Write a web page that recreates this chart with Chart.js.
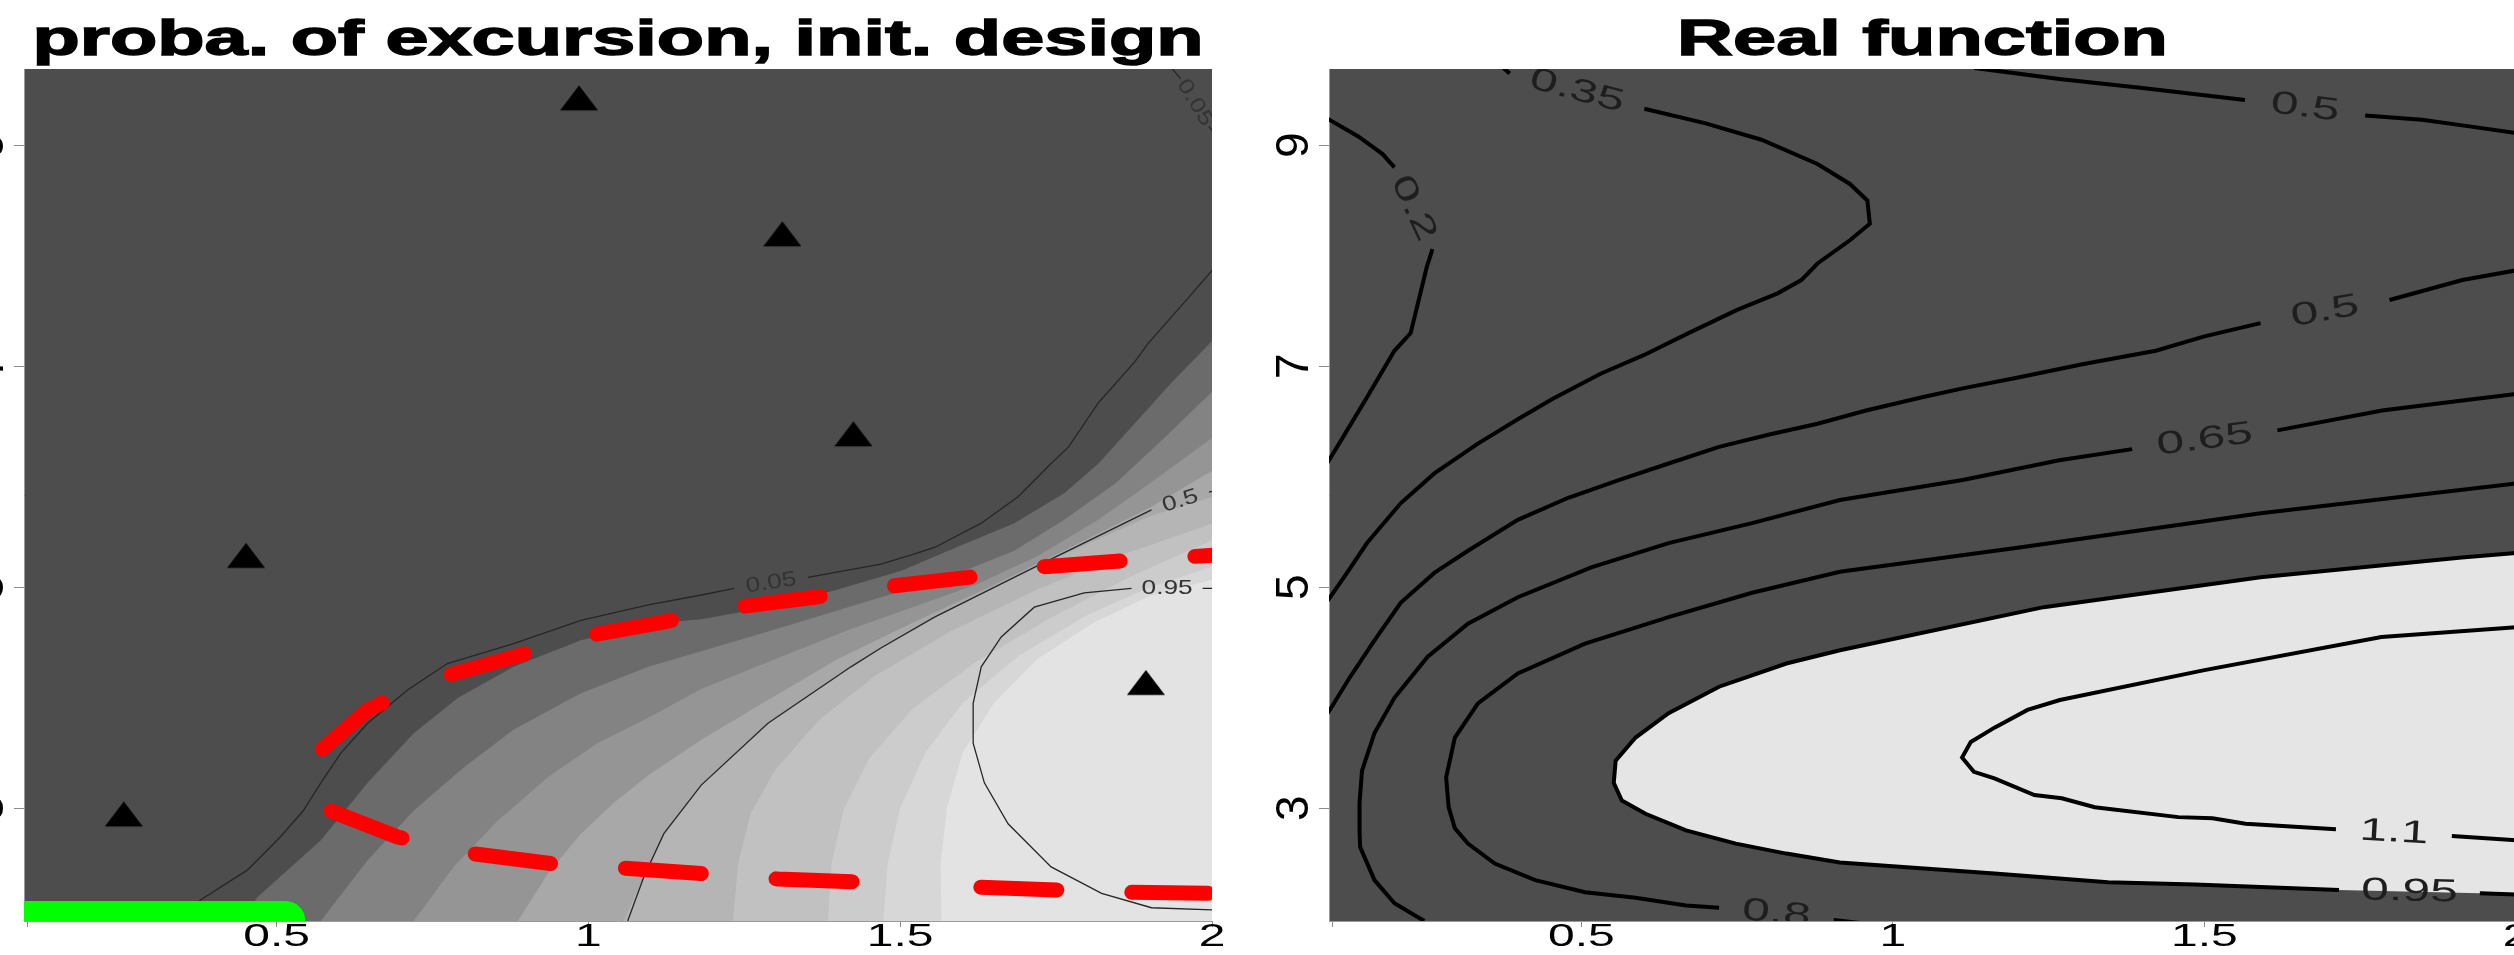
<!DOCTYPE html>
<html>
<head>
<meta charset="utf-8">
<script src="https://cdn.jsdelivr.net/npm/chart.js@4.4.1/dist/chart.umd.min.js"></script>
<style>
  html, body { margin: 0; padding: 0; background: #fff; }
  body { width: 2514px; height: 955px; overflow: hidden; position: relative; }
  canvas { position: absolute; top: 0; }
  #left { left: -60px; }
  #right { left: 1260px; }
</style>
</head>
<body>
<canvas id="left" width="1300" height="955"></canvas>
<canvas id="right" width="1300" height="955"></canvas>
<script>
// axes
const xLimits = [0.095, 2.0];
const yLimits = [1.98, 9.69];
const xTicks = [0.1, 0.5, 1, 1.5, 2];
const xTickLabels = ['', '0.5', '1', '1.5', '2'];
const yTicks = [3, 5, 7, 9];
const yTickLabels = ['3', '5', '7', '9'];

// initial design (triangles)
const designX = [0.985, 1.311, 1.425, 0.451, 0.255, 1.894];
const designY = [9.39, 8.16, 6.35, 5.25, 2.91, 4.10];

// left panel: probability bands, edge of each lighter band (bottom edge -> right edge)
const bandColors = ['#4d4d4d', '#6b6b6b', '#838383', '#959595', '#a8a8a8', '#b5b5b5', '#c1c1c1', '#cccccc', '#d7d7d7', '#e3e3e3'];
const bandEdges = [
  [[0.44,1.98],[0.470,2.20],[0.571,2.71],[0.646,3.23],[0.720,3.68],[0.791,4.00],[0.880,4.28],[0.988,4.52],[1.096,4.67],[1.181,4.71],[1.288,4.82],[1.394,4.97],[1.502,5.15],[1.577,5.33],[1.683,5.58],[1.763,5.85],[1.818,6.12],[1.871,6.45],[1.935,6.85],[2.002,7.24]],
  [[0.571,1.98],[0.646,2.53],[0.720,2.98],[0.800,3.37],[0.880,3.71],[0.988,4.04],[1.096,4.28],[1.181,4.42],[1.288,4.60],[1.394,4.78],[1.469,4.91],[1.577,5.09],[1.683,5.33],[1.763,5.61],[1.845,5.94],[1.925,6.36],[2.002,6.78]],
  [[0.720,1.98],[0.784,2.47],[0.855,2.89],[0.935,3.28],[1.015,3.59],[1.096,3.82],[1.181,4.08],[1.30,4.35],[1.42,4.62],[1.52,4.82],[1.62,5.02],[1.72,5.28],[1.82,5.62],[1.91,5.98],[2.002,6.36]],
  [[0.887,1.98],[0.935,2.41],[0.988,2.77],[1.041,3.05],[1.096,3.30],[1.181,3.62],[1.288,3.98],[1.40,4.35],[1.52,4.68],[1.65,5.02],[1.78,5.38],[1.90,5.72],[2.002,6.06]],
  [[1.057,1.98],[1.089,2.38],[1.121,2.77],[1.181,3.21],[1.288,3.77],[1.421,4.28],[1.555,4.73],[1.715,5.18],[1.903,5.65],[2.002,5.82]],
  [[1.232,1.98],[1.24,2.5],[1.26,2.95],[1.30,3.35],[1.37,3.80],[1.46,4.20],[1.58,4.60],[1.72,4.98],[1.86,5.30],[2.002,5.58]],
  [[1.384,1.98],[1.39,2.5],[1.41,3.0],[1.45,3.45],[1.52,3.90],[1.62,4.32],[1.74,4.72],[1.87,5.10],[2.002,5.43]],
  [[1.473,1.98],[1.48,2.5],[1.50,3.0],[1.54,3.50],[1.60,3.95],[1.69,4.38],[1.80,4.75],[1.90,5.00],[2.002,5.19]],
  [[1.566,1.98],[1.565,2.5],[1.575,3.0],[1.60,3.50],[1.65,3.95],[1.72,4.35],[1.81,4.68],[1.90,4.92],[2.002,5.07]]
];

// left panel: contours of the excursion probability (null = label gap)
const pexc005 = [[0.345,1.98],[0.378,2.17],[0.453,2.44],[0.506,2.74],[0.543,2.98],[0.571,3.23],[0.603,3.50],[0.646,3.77],[0.710,4.07],[0.774,4.31],[0.880,4.49],[0.988,4.70],[1.096,4.84],[1.181,4.93],[1.234,4.99], null, [1.352,5.09],[1.469,5.21],[1.522,5.30],[1.555,5.36],[1.630,5.58],[1.689,5.82],[1.742,6.12],[1.770,6.27],[1.818,6.67],[1.876,7.04],[1.898,7.21],[1.956,7.58],[2.002,7.88]];
const pexc005Corner = [[1.935,9.70],[1.950,9.60], null, [1.995,9.17],[2.002,9.12]];
const pexc05 = [[1.063,1.98],[1.089,2.38],[1.121,2.77],[1.181,3.21],[1.288,3.77],[1.421,4.28],[1.469,4.45],[1.555,4.73],[1.715,5.18],[1.903,5.70], null, [1.995,5.86],[2.002,5.87]];
const pexc095 = [[2.002,4.99],[1.985,4.99], null, [1.871,4.99],[1.795,4.95],[1.715,4.82],[1.662,4.55],[1.630,4.28],[1.617,3.95],[1.617,3.59],[1.635,3.23],[1.673,2.86],[1.742,2.47],[1.823,2.23],[1.903,2.10],[2.002,2.08]];
// true excursion set boundary (red), drawn from its left tip: upper branch, lower branch, after the small label
const trueBoundary = [[0.552,3.23],[0.566,3.50],[0.646,3.89],[0.747,4.16],[0.880,4.37],[0.988,4.55],[1.116,4.68],[1.224,4.81],[1.362,4.91],[1.470,5.00],[1.609,5.09],[1.715,5.18],[1.860,5.24],[2.002,5.29], null,
  [0.552,3.23],[0.576,3.00],[0.694,2.74],[0.800,2.60],[0.940,2.50],[1.052,2.46],[1.181,2.41],[1.304,2.36],[1.449,2.33], null,
  [1.570,2.30],[1.609,2.29],[1.758,2.26],[1.866,2.24],[2.002,2.23]];
const greenSegment = [[0.06,1.98],[0.514,1.98]];

// right panel: contours of the real function
const f02 = [[0.093,9.24],[0.142,9.08],[0.181,8.92],[0.200,8.80], null, [0.261,8.06],[0.252,7.90],[0.239,7.60],[0.226,7.30],[0.200,7.14],[0.156,6.72],[0.124,6.42],[0.093,6.13]];
const f035 = [[0.375,9.70],[0.385,9.65], null, [0.601,9.33],[0.698,9.20],[0.789,9.05],[0.879,8.83],[0.931,8.65],[0.959,8.50],[0.963,8.29],[0.931,8.14],[0.879,7.93],[0.853,7.78],[0.815,7.66],[0.750,7.51],[0.672,7.30],[0.600,7.10],[0.530,6.93],[0.452,6.70],[0.398,6.52],[0.334,6.30],[0.264,6.03],[0.210,5.76],[0.156,5.40],[0.119,5.09],[0.093,4.88]];
const f05a = [[1.131,9.70],[1.267,9.60],[1.397,9.52],[1.565,9.41], null, [1.758,9.27],[1.849,9.23],[1.914,9.18],[2.002,9.11]];
const f05b = [[2.002,7.87],[1.914,7.78],[1.797,7.60], null, [1.590,7.39],[1.500,7.27],[1.422,7.14],[1.306,7.02],[1.203,6.90],[1.112,6.80],[1.047,6.72],[0.957,6.60],[0.879,6.48],[0.800,6.38],[0.721,6.27],[0.640,6.12],[0.560,5.97],[0.479,5.81],[0.398,5.61],[0.318,5.33],[0.264,5.13],[0.210,4.86],[0.168,4.52],[0.129,4.19],[0.093,3.86]];
const f065 = [[2.002,6.75],[1.914,6.69],[1.785,6.60],[1.617,6.42], null, [1.384,6.25],[1.267,6.15],[1.112,5.97],[0.915,5.79],[0.774,5.58],[0.640,5.40],[0.516,5.18],[0.398,4.91],[0.318,4.67],[0.253,4.37],[0.200,4.00],[0.168,3.68],[0.148,3.34],[0.144,3.05],[0.144,2.80],[0.145,2.65],[0.168,2.35],[0.200,2.14],[0.248,1.98]];
const f08 = [[2.002,5.94],[1.590,5.67],[1.203,5.36],[0.915,5.14],[0.774,4.95],[0.640,4.73],[0.506,4.49],[0.398,4.22],[0.334,3.95],[0.297,3.64],[0.283,3.28],[0.287,3.01],[0.297,2.82],[0.318,2.68],[0.361,2.50],[0.426,2.35],[0.506,2.24],[0.587,2.19],[0.668,2.12],[0.721,2.10], null, [0.905,1.99],[0.95,1.96]];
const f095 = [[2.002,5.31],[1.913,5.27],[1.590,5.09],[1.242,4.82],[0.915,4.43],[0.829,4.31],[0.721,4.10],[0.640,3.86],[0.587,3.64],[0.555,3.43],[0.552,3.23],[0.565,3.07],[0.603,2.95],[0.668,2.80],[0.748,2.68],[0.829,2.59],[0.915,2.51],[1.163,2.41],[1.345,2.33],[1.485,2.31],[1.716,2.26], null, [1.942,2.23],[2.002,2.22]];
const f11 = [[2.002,4.64],[1.784,4.55],[1.500,4.25],[1.268,3.98],[1.216,3.89],[1.163,3.73],[1.125,3.60],[1.111,3.46],[1.130,3.33],[1.163,3.27],[1.227,3.12],[1.271,3.09],[1.324,3.01],[1.458,2.92],[1.513,2.91],[1.566,2.86],[1.711,2.81], null, [1.897,2.75],[2.002,2.71]];

const FONT = '"Liberation Sans", Arial, Helvetica, sans-serif';

// [x,y] pairs -> chart points, a null becomes a break in the line
function xy(pts) {
    const out = [];
    let last = null;
    pts.forEach(p => {
        if (p === null) {
            out.push({x: last[0], y: null});
        } else {
            out.push({x: p[0], y: p[1]});
            last = p;
        }
    });
    return out;
}

// filled triangle, centroid at the middle of the canvas (like R pch 17)
function trianglePoint(w, h) {
    const c = document.createElement('canvas');
    const ch = Math.ceil(h * 4 / 3);
    c.width = w;
    c.height = ch;
    const g = c.getContext('2d');
    const top = ch / 2 - h * 2 / 3;
    g.fillStyle = '#000';
    g.beginPath();
    g.moveTo(w / 2, top);
    g.lineTo(w, top + h);
    g.lineTo(0, top + h);
    g.closePath();
    g.fill();
    return c;
}

function stretchedText(ctx, text, x, y, sx, angle, bold) {
    ctx.save();
    ctx.translate(x, y);
    ctx.rotate(angle || 0);
    ctx.scale(sx, 1);
    ctx.fillText(text, 0, 0);
    if (bold) {
        ctx.lineWidth = bold;
        ctx.strokeStyle = ctx.fillStyle;
        ctx.strokeText(text, 0, 0);
    }
    ctx.restore();
}

// background, title, axis labels and contour labels drawn the R way
function rText(cfg) {
    return {
        id: 'rText',
        beforeDraw(chart) {
            const {ctx, chartArea: a} = chart;
            ctx.save();
            ctx.fillStyle = cfg.background;
            ctx.fillRect(a.left, a.top, a.right - a.left, a.bottom - a.top);
            ctx.restore();
        },
        afterDraw(chart) {
            const {ctx, chartArea: a} = chart;
            const xs = chart.scales.x, ys = chart.scales.y;
            ctx.save();
            ctx.fillStyle = '#000';
            ctx.textAlign = 'center';
            ctx.textBaseline = 'alphabetic';
            ctx.font = 'bold 50px ' + FONT;
            stretchedText(ctx, cfg.title, (a.left + a.right) / 2, a.top - 14, 1.55, 0, 1.4);

            ctx.font = '32px ' + FONT;
            xTicks.forEach((v, i) => {
                stretchedText(ctx, xTickLabels[i], xs.getPixelForValue(v), a.bottom + 25, 1.5, 0);
            });
            ctx.font = '46px ' + FONT;
            yTicks.forEach((v, i) => {
                stretchedText(ctx, yTickLabels[i], a.left - 21, ys.getPixelForValue(v), 1, -Math.PI / 2);
            });

            // contour labels sit in the gap of their line
            ctx.beginPath();
            ctx.rect(a.left, a.top, a.right - a.left, a.bottom - a.top);
            ctx.clip();
            ctx.font = cfg.labelFont;
            ctx.fillStyle = cfg.labelColor;
            ctx.textBaseline = 'middle';
            cfg.contours.forEach(c => {
                const k = c.pts.indexOf(null);
                if (k < 1) return;
                const p = c.pts[k - 1], q = c.pts[k + 1];
                const x1 = xs.getPixelForValue(p[0]), y1 = ys.getPixelForValue(p[1]);
                const x2 = xs.getPixelForValue(q[0]), y2 = ys.getPixelForValue(q[1]);
                let ang = Math.atan2(y2 - y1, x2 - x1);
                if (ang > Math.PI / 2) ang -= Math.PI;
                if (ang < -Math.PI / 2) ang += Math.PI;
                stretchedText(ctx, c.text, (x1 + x2) / 2, (y1 + y2) / 2, cfg.labelStretch, ang);
            });
            ctx.restore();
        }
    };
}

function panelOptions(padding) {
    return {
        responsive: false,
        animation: false,
        devicePixelRatio: 1,
        events: [],
        layout: { padding: padding },
        plugins: { legend: { display: false }, tooltip: { enabled: false }, title: { display: false } },
        elements: { line: { tension: 0 } },
        scales: {
            x: {
                type: 'linear', min: xLimits[0], max: xLimits[1], z: 1,
                afterBuildTicks: s => { s.ticks = xTicks.map(v => ({value: v})); },
                afterFit: s => { s.height = 0; },
                ticks: { display: false },
                grid: { drawOnChartArea: false, drawTicks: true, tickLength: 6, color: '#8c8c8c' },
                border: { display: true, color: '#9a9a9a', width: 1 }
            },
            y: {
                type: 'linear', min: yLimits[0], max: yLimits[1], z: 1,
                afterBuildTicks: s => { s.ticks = yTicks.map(v => ({value: v})); },
                afterFit: s => { s.width = 0; },
                ticks: { display: false },
                grid: { drawOnChartArea: false, drawTicks: true, tickLength: 10, color: '#8c8c8c' },
                border: { display: true, color: '#9a9a9a', width: 1 }
            }
        }
    };
}

function contourSet(pts, color, width, order) {
    return { data: xy(pts), borderColor: color, borderWidth: width, pointRadius: 0, fill: false, spanGaps: false, order: order, clip: 0 };
}

// ---- left panel: probability of excursion ----
const leftDatasets = bandEdges.map((edge, i) => ({
    data: xy(edge.concat([[xLimits[1] + 0.1, yLimits[0] - 0.1]])),
    fill: 'shape',
    backgroundColor: bandColors[i + 1],
    borderColor: 'rgba(0,0,0,0)',
    borderWidth: 0,
    pointRadius: 0,
    order: 60 - i,
    clip: 0
}));
[pexc005, pexc005Corner, pexc05, pexc095].forEach(c => leftDatasets.push(contourSet(c, '#262626', 1.3, 20)));
leftDatasets.push({
    data: xy(trueBoundary),
    borderColor: '#ff0000', borderWidth: 15, borderDash: [76, 75], borderDashOffset: 114,
    borderCapStyle: 'round', borderJoinStyle: 'round',
    pointRadius: 0, fill: false, spanGaps: false, order: 10, clip: 0
});
leftDatasets.push({
    data: xy(greenSegment),
    borderColor: '#00ff00', borderWidth: 40, borderCapStyle: 'round',
    pointRadius: 0, fill: false, order: 8, clip: 0
});
leftDatasets.push({
    data: designX.map((x, i) => ({x: x, y: designY[i]})),
    showLine: false, pointStyle: trianglePoint(38, 25), pointRadius: 12, order: 1
});

new Chart(document.getElementById('left'), {
    type: 'line',
    data: { datasets: leftDatasets },
    options: panelOptions({ left: 84, right: 28, top: 69, bottom: 34 }),
    plugins: [rText({
        title: 'proba. of excursion, init. design',
        background: bandColors[0],
        labelFont: '21px ' + FONT, labelColor: '#333333', labelStretch: 1.25,
        contours: [
            { text: '0.05', pts: pexc005 },
            { text: '0.05', pts: pexc005Corner },
            { text: '0.5', pts: pexc05 },
            { text: '0.95', pts: pexc095 }
        ]
    })]
});

// ---- right panel: real function ----
const rightContours = [
    { text: '0.2', pts: f02 },
    { text: '0.35', pts: f035 },
    { text: '0.5', pts: f05a },
    { text: '0.5', pts: f05b },
    { text: '0.65', pts: f065 },
    { text: '0.8', pts: f08 },
    { text: '0.95', pts: f095 },
    { text: '1.1', pts: f11 }
];
const rightDatasets = [{
    data: xy(f095.filter(p => p)),
    fill: 'shape', backgroundColor: '#e5e5e5', borderColor: 'rgba(0,0,0,0)', borderWidth: 0,
    pointRadius: 0, spanGaps: true, order: 50, clip: 0
}];
rightContours.forEach(c => rightDatasets.push(contourSet(c.pts, '#000000', 4, 10)));

new Chart(document.getElementById('right'), {
    type: 'line',
    data: { datasets: rightDatasets },
    options: panelOptions({ left: 69, right: 44, top: 69, bottom: 34 }),
    plugins: [rText({
        title: 'Real function',
        background: '#4d4d4d',
        labelFont: '32px ' + FONT, labelColor: '#1e1e1e', labelStretch: 1.55,
        contours: rightContours
    })]
});
</script>
</body>
</html>
